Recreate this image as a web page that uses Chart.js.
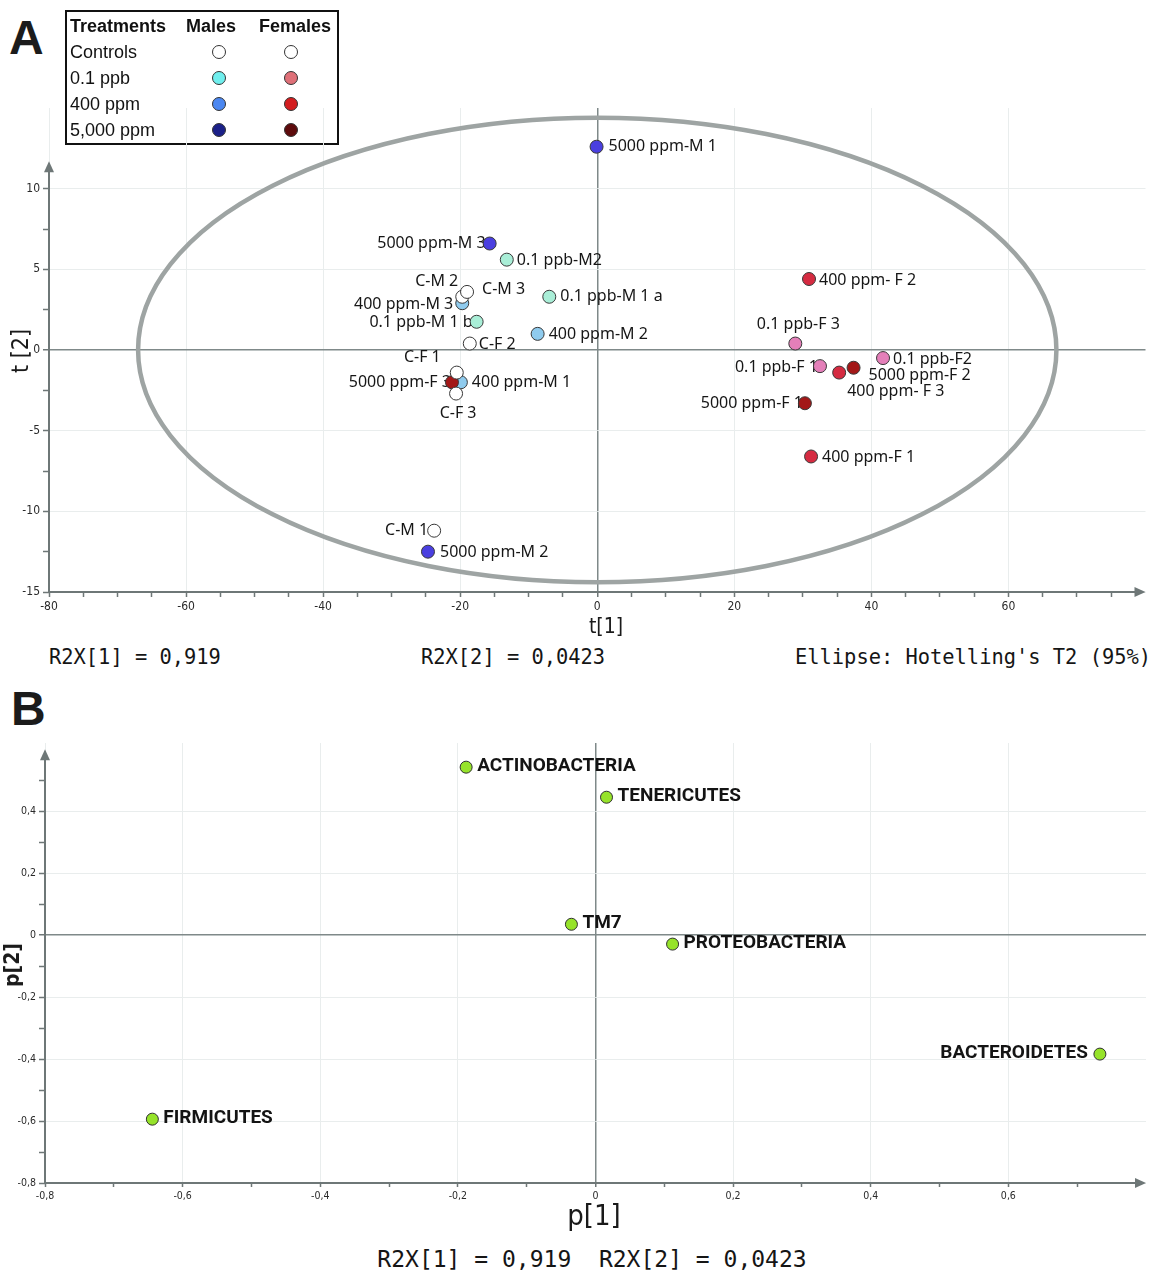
<!DOCTYPE html>
<html>
<head>
<meta charset="utf-8">
<title>PCA scores and loadings</title>
<script src="https://cdn.jsdelivr.net/npm/chart.js@4.4.1/dist/chart.umd.min.js"></script>
<style>
  body { margin: 0; background: #fff; width: 1153px; height: 1277px; position: relative; overflow: hidden; }
  .abs { position: absolute; white-space: pre; color: #111; }
  .letter { font: bold 48px 'Liberation Sans', Arial, sans-serif; color: #1b1b1b; line-height: 0; }
  .mono { font: 20.4px 'DejaVu Sans Mono', monospace; color: #151515; line-height: 0; }
  .axt { font-family: 'DejaVu Sans Condensed', 'Liberation Sans Narrow', 'Roboto', sans-serif; color: #1a1a1a; line-height: 0; }
  .lg { font: 18px 'Liberation Sans', Arial, sans-serif; color: #111; line-height: 0; }
  .lg b { font-weight: bold; }
  .dot { position: absolute; width: 14px; height: 14px; border-radius: 50%; border: 1px solid #333; box-sizing: border-box; }
  #legendBox { position: absolute; left: 65px; top: 10px; width: 274px; height: 135px; border: 2px solid #111; box-sizing: border-box; }
  canvas { position: absolute; left: 0; }
</style>
</head>
<body>

<div class="abs letter" style="left:9px; top:38px;">A</div>
<div class="abs letter" style="left:11px; top:709px;">B</div>
<div id="legendBox"></div>

<canvas id="chartScores" width="1153" height="645" style="top:0; width:1153px; height:645px;"></canvas>
<canvas id="chartLoadings" width="1153" height="540" style="top:700px; width:1153px; height:540px;"></canvas>

<div class="abs axt" style="left:606px; top:626px; font-size:21px; transform:translateX(-50%);">t[1]</div>
<div class="abs axt" style="left:20px; top:351px; font-size:23px; transform:translateX(-50%) rotate(-90deg);">t [2]</div>
<div class="abs mono" style="left:49px; top:657px;">R2X[1] = 0,919</div>
<div class="abs mono" style="left:421px; top:657px;">R2X[2] = 0,0423</div>
<div class="abs mono" style="left:795px; top:657px;">Ellipse: Hotelling's T2 (95%)</div>

<div class="abs axt" style="left:594px; top:1215px; font-size:29px; transform:translateX(-50%);">p[1]</div>
<div class="abs axt" style="left:12px; top:965px; font-size:21px; font-weight:bold; transform:translateX(-50%) rotate(-90deg);">p[2]</div>
<div class="abs mono" style="left:592px; top:1259px; font-size:23px; transform:translateX(-50%);">R2X[1] = 0,919  R2X[2] = 0,0423</div>

<script>
// ─── Panel A: score plot data ─────────────────────────────────────────────────
const sampleNames = [
    'C-M 1', 'C-M 2', 'C-M 3', 'C-F 1', 'C-F 2', 'C-F 3',
    '0.1 ppb-F 1', '0.1 ppb-F2', '0.1 ppb-F 3',
    '400 ppm-F 1', '400 ppm- F 2', '400 ppm- F 3',
    '5000 ppm-F 1', '5000 ppm-F 2', '5000 ppm-F 3',
    '0.1 ppb-M 1 a', '0.1 ppb-M 1 b', '0.1 ppb-M2',
    '400 ppm-M 1', '400 ppm-M 2', '400 ppm-M 3',
    '5000 ppm-M 1', '5000 ppm-M 2', '5000 ppm-M 3',
];
const sampleGroups = [
    'C', 'C', 'C', 'C', 'C', 'C',
    'F01', 'F01', 'F01',
    'F400', 'F400', 'F400',
    'F5000', 'F5000', 'F5000',
    'M01', 'M01', 'M01',
    'M400', 'M400', 'M400',
    'M5000', 'M5000', 'M5000',
];
const t1Scores = [
    -23.8, -19.7, -19.0, -20.5, -18.6, -20.6,
    32.5, 41.7, 28.9,
    31.2, 30.9, 35.3,
    30.3, 37.4, -21.2,
    -7.0, -17.6, -13.2,
    -19.9, -8.7, -19.7,
    -0.1, -24.7, -15.7,
];
const t2Scores = [
    -11.2, 3.3, 3.6, -1.4, 0.4, -2.7,
    -1.0, -0.5, 0.4,
    -6.6, 4.4, -1.4,
    -3.3, -1.1, -2.0,
    3.3, 1.75, 5.6,
    -2.0, 1.0, 2.9,
    12.6, -12.5, 6.6,
];
const groupOrder = ['C', 'F01', 'F400', 'F5000', 'M01', 'M400', 'M5000'];
const ellipseT1 = 67.0;   // Hotelling's T2 (95%) semi-axes
const ellipseT2 = 14.4;

// ─── Legend data ──────────────────────────────────────────────────────────────
const legendTreatments = ['Controls', '0.1 ppb', '400 ppm', '5,000 ppm'];
const legendMaleColors = ['#ffffff', '#70efee', '#4b87f1', '#1b2088'];
const legendFemaleColors = ['#ffffff', '#df7078', '#d31d1f', '#5d0b0c'];

// ─── Panel B: loading plot data ───────────────────────────────────────────────
const phylumNames = ['ACTINOBACTERIA', 'TENERICUTES', 'TM7', 'PROTEOBACTERIA', 'BACTEROIDETES', 'FIRMICUTES'];
const p1Loadings = [-0.188, 0.016, -0.035, 0.112, 0.733, -0.644];
const p2Loadings = [0.542, 0.445, 0.035, -0.029, -0.384, -0.594];

// ─── Styles ───────────────────────────────────────────────────────────────────
const groupColors = {
    C: '#ffffff',
    M01: '#a9eed7',
    M400: '#8fcbee',
    M5000: '#4a3fe0',
    F01: '#e47fb9',
    F400: '#d52b41',
    F5000: '#a31818',
};
// label placement relative to the point: [dx, dy, textAlign]
const labelPlacement = {
    'C-M 1': [-6, 0, 'right'],
    'C-M 2': [-4, -15, 'right'],
    'C-M 3': [15, -2, 'left'],
    'C-F 1': [-16, -15, 'right'],
    'C-F 2': [9, 1, 'left'],
    'C-F 3': [2, 20, 'center'],
    '0.1 ppb-M 1 a': [11, 0, 'left'],
    '0.1 ppb-M 1 b': [-4, 1, 'right'],
    '0.1 ppb-M2': [10, 1, 'left'],
    '400 ppm-M 1': [11, 0, 'left'],
    '400 ppm-M 2': [11, 1, 'left'],
    '400 ppm-M 3': [-9, 1, 'right'],
    '5000 ppm-M 1': [12, 0, 'left'],
    '5000 ppm-M 2': [12, 1, 'left'],
    '5000 ppm-M 3': [-4, 0, 'right'],
    '0.1 ppb-F 1': [-2, 1, 'right'],
    '0.1 ppb-F2': [10, 1, 'left'],
    '0.1 ppb-F 3': [3, -19, 'center'],
    '400 ppm-F 1': [11, 1, 'left'],
    '400 ppm- F 2': [10, 1, 'left'],
    '400 ppm- F 3': [8, 19, 'left'],
    '5000 ppm-F 1': [-2, 0, 'right'],
    '5000 ppm-F 2': [15, 8, 'left'],
    '5000 ppm-F 3': [-1, 0, 'right'],
};

const AXIS = '#6e7777';
const ZERO = '#7f8989';
const GRID = '#e9eded';
const TICK_FONT = "'DejaVu Sans Condensed', 'Liberation Sans Narrow', 'Roboto', sans-serif";

// ─── Legend (HTML) ────────────────────────────────────────────────────────────
function buildLegend() {
    const add = (html, left, top, center) => {
        const el = document.createElement('div');
        el.className = 'abs lg';
        el.style.left = left + 'px';
        el.style.top = top + 'px';
        if (center) el.style.transform = 'translateX(-50%)';
        el.innerHTML = html;
        document.body.appendChild(el);
    };
    add('<b>Treatments</b>', 70, 26);
    add('<b>Males</b>', 211, 26, true);
    add('<b>Females</b>', 295, 26, true);
    legendTreatments.forEach((t, i) => {
        const y = 52 + i * 26;
        add(t, 70, y);
        [[219, legendMaleColors[i]], [291, legendFemaleColors[i]]].forEach(([cx, col]) => {
            const d = document.createElement('div');
            d.className = 'dot';
            d.style.left = cx - 7 + 'px';
            d.style.top = y - 7 + 'px';
            d.style.background = col;
            document.body.appendChild(d);
        });
    });
}

// ─── Shared plugins ───────────────────────────────────────────────────────────
const arrowAxes = {
    id: 'arrowAxes',
    beforeDatasetsDraw(chart, args, opts) {
        const { ctx, chartArea: a, scales } = chart;
        const yTip = scales.y.getPixelForValue(opts.yTip);
        ctx.save();
        ctx.strokeStyle = AXIS;
        ctx.fillStyle = AXIS;
        ctx.lineWidth = 2;
        ctx.beginPath();
        ctx.moveTo(a.left, a.bottom);
        ctx.lineTo(a.right - 8, a.bottom);
        ctx.moveTo(a.left, a.bottom);
        ctx.lineTo(a.left, yTip + 8);
        ctx.stroke();
        ctx.beginPath();
        ctx.moveTo(a.right, a.bottom);
        ctx.lineTo(a.right - 11, a.bottom - 5);
        ctx.lineTo(a.right - 11, a.bottom + 5);
        ctx.closePath();
        ctx.fill();
        ctx.beginPath();
        ctx.moveTo(a.left, yTip);
        ctx.lineTo(a.left - 5, yTip + 11);
        ctx.lineTo(a.left + 5, yTip + 11);
        ctx.closePath();
        ctx.fill();
        ctx.restore();
    },
};

const hotellingEllipse = {
    id: 'hotellingEllipse',
    beforeDatasetsDraw(chart, args, opts) {
        if (!opts.a) return;
        const { ctx, scales } = chart;
        const cx = scales.x.getPixelForValue(0);
        const cy = scales.y.getPixelForValue(0);
        const rx = scales.x.getPixelForValue(opts.a) - cx;
        const ry = cy - scales.y.getPixelForValue(opts.b);
        ctx.save();
        ctx.strokeStyle = '#9ea4a3';
        ctx.lineWidth = 4.5;
        ctx.beginPath();
        ctx.ellipse(cx, cy, rx, ry, 0, 0, Math.PI * 2);
        ctx.stroke();
        ctx.restore();
    },
};

const pointLabels = {
    id: 'pointLabels',
    beforeDatasetsDraw(chart, args, opts) {
        const { ctx } = chart;
        ctx.save();
        ctx.font = opts.font;
        ctx.fillStyle = opts.color;
        ctx.textBaseline = 'middle';
        chart.data.datasets.forEach((ds, di) => {
            chart.getDatasetMeta(di).data.forEach((pt, j) => {
                const name = ds.names[j];
                const [dx, dy, align] = (opts.placement && opts.placement[name]) || [11, 0, 'left'];
                ctx.textAlign = align;
                ctx.fillText(name, pt.x + dx, pt.y + dy + (opts.shift || 0));
            });
        });
        ctx.restore();
    },
};

const fmt = v => String(Math.round(v));

function axisScale({ min, max, step, majorEvery, keepMax, label, fit, tickLen, fontSize }) {
    const isMajor = v => Math.abs(Math.round(v / step)) % majorEvery === 0;
    return {
        type: 'linear',
        min,
        max,
        afterBuildTicks: s => { s.ticks = s.ticks.filter(t => t.value <= keepMax + 1e-9); },
        afterFit: fit,
        border: { display: false },
        grid: {
            color: c => (Math.abs(c.tick.value) < 1e-9 ? ZERO : isMajor(c.tick.value) ? GRID : 'rgba(0,0,0,0)'),
            lineWidth: c => (Math.abs(c.tick.value) < 1e-9 ? 1.5 : 1),
            tickColor: AXIS,
            tickWidth: 1.5,
            tickLength: tickLen,
        },
        ticks: {
            stepSize: step,
            autoSkip: false,
            maxRotation: 0,
            padding: 3,
            color: '#2a2a2a',
            font: { family: TICK_FONT, size: fontSize },
            callback: v => (isMajor(v) && v <= label ? fmt(v) : ''),
        },
    };
}

// ─── Panel A chart ────────────────────────────────────────────────────────────
function buildScoresChart() {
    const datasets = groupOrder.map(g => {
        const idx = sampleGroups.map((sg, i) => (sg === g ? i : -1)).filter(i => i >= 0);
        return {
            label: g,
            names: idx.map(i => sampleNames[i]),
            data: idx.map(i => ({ x: t1Scores[i], y: t2Scores[i] })),
            backgroundColor: groupColors[g],
            borderColor: '#383838',
            borderWidth: 1,
            pointRadius: 6.5,
        };
    });

    new Chart(document.getElementById('chartScores'), {
        type: 'scatter',
        data: { datasets },
        plugins: [hotellingEllipse, arrowAxes, pointLabels],
        options: {
            responsive: false,
            animation: false,
            devicePixelRatio: 1,
            layout: { padding: { top: 108, right: 3, left: 0, bottom: 0 } },
            scales: {
                x: axisScale({ min: -80, max: 80, step: 5, majorEvery: 4, keepMax: 75, label: 60,
                    fit: s => { s.height = 53; }, tickLen: 5, fontSize: 12 }),
                y: axisScale({ min: -15, max: 15, step: 2.5, majorEvery: 2, keepMax: 10, label: 10,
                    fit: s => { s.width = 49; }, tickLen: 6, fontSize: 12 }),
            },
            plugins: {
                legend: { display: false },
                tooltip: { enabled: false },
                hotellingEllipse: { a: ellipseT1, b: ellipseT2 },
                arrowAxes: { yTip: 11.7 },
                pointLabels: { font: "16px 'Noto Sans', 'Open Sans', sans-serif", color: '#161616', placement: labelPlacement },
            },
        },
    });
}

// ─── Panel B chart ────────────────────────────────────────────────────────────
function buildLoadingsChart() {
    const fmtComma = v => (Math.abs(v) < 1e-9 ? '0' : v.toFixed(1).replace('.', ','));
    const x = axisScale({ min: -0.8, max: 0.8, step: 0.1, majorEvery: 2, keepMax: 0.75, label: 0.61,
        fit: s => { s.height = 57; }, tickLen: 4, fontSize: 10.5 });
    const y = axisScale({ min: -0.8, max: 0.62, step: 0.1, majorEvery: 2, keepMax: 0.5, label: 0.41,
        fit: s => { s.width = 45; }, tickLen: 6, fontSize: 10.5 });
    x.ticks.callback = v => (Math.abs(Math.round(v * 10)) % 2 === 0 && v < 0.61 ? fmtComma(v) : '');
    y.ticks.callback = v => (Math.abs(Math.round(v * 10)) % 2 === 0 && v < 0.41 ? fmtComma(v) : '');

    new Chart(document.getElementById('chartLoadings'), {
        type: 'scatter',
        data: {
            datasets: [{
                label: 'Phyla',
                names: phylumNames,
                data: phylumNames.map((n, i) => ({ x: p1Loadings[i], y: p2Loadings[i] })),
                backgroundColor: '#96e32a',
                borderColor: '#2f2f2f',
                borderWidth: 1,
                pointRadius: 6,
            }],
        },
        plugins: [arrowAxes, pointLabels],
        options: {
            responsive: false,
            animation: false,
            devicePixelRatio: 1,
            layout: { padding: { top: 43, right: 3, left: 0, bottom: 0 } },
            scales: { x, y },
            plugins: {
                legend: { display: false },
                tooltip: { enabled: false },
                arrowAxes: { yTip: 0.6 },
                pointLabels: {
                    font: "bold 19px 'Roboto', 'Noto Sans', sans-serif",
                    color: '#141414',
                    shift: -1,
                    placement: { BACTEROIDETES: [-12, 0, 'right'] },
                },
            },
        },
    });
}

// ─── Entry point ──────────────────────────────────────────────────────────────
buildLegend();
buildScoresChart();
buildLoadingsChart();
</script>
</body>
</html>
